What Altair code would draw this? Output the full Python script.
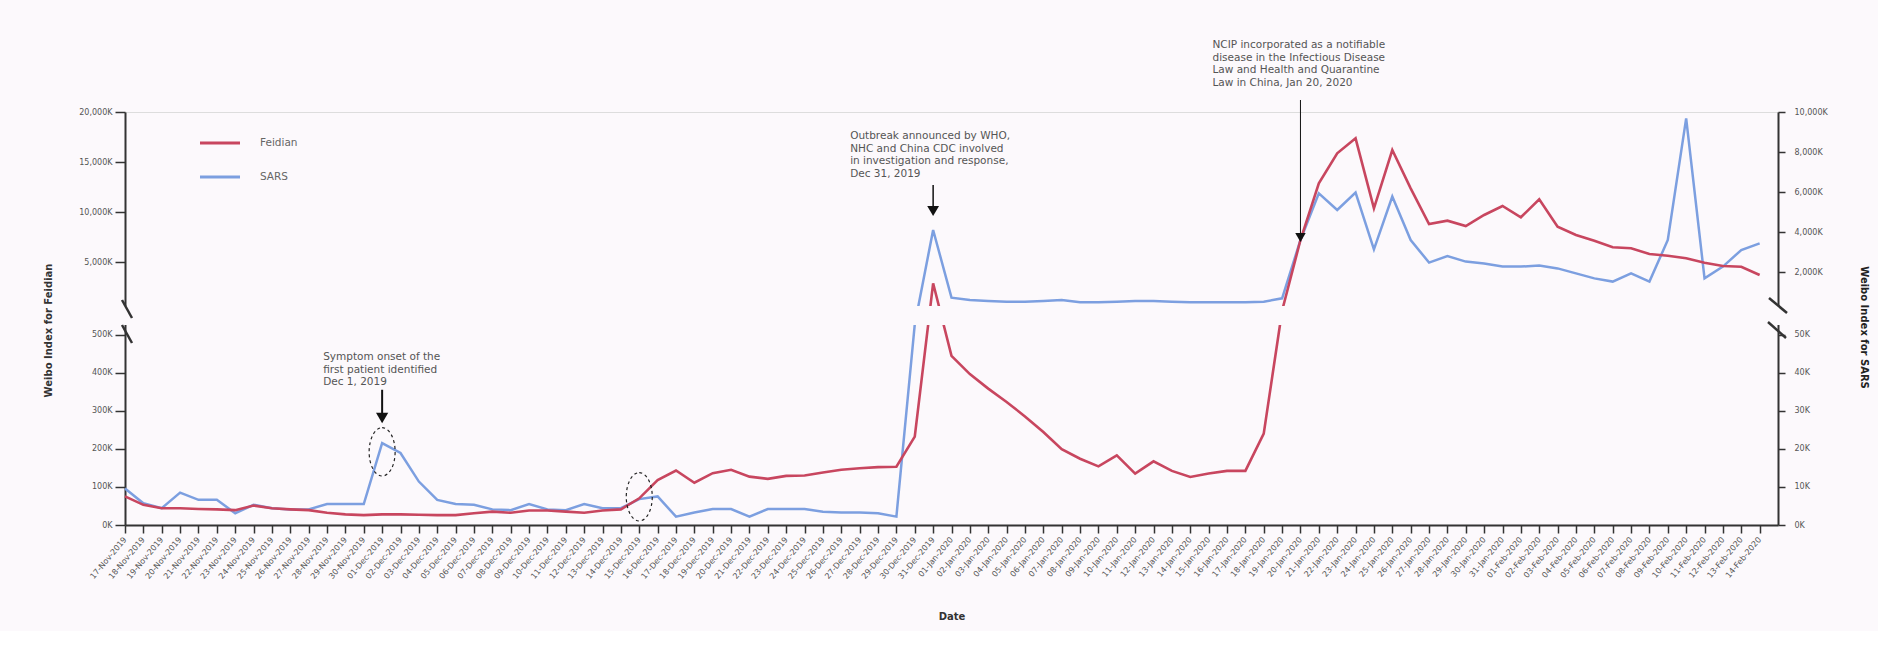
import altair as alt
import pandas as pd

# ---------------- data ----------------
dates = [d.strftime("%Y-%m-%d") for d in pd.date_range("2019-11-17", "2020-02-14", freq="D")]

# Weibo index for "Feidian" (thousands), left axis
feidian_k = [75, 53, 44, 44, 42, 41, 39, 51, 44, 41,
             39, 32, 28, 26, 28, 28, 27, 26, 26, 31,
             35, 32, 38, 38, 35, 32, 38, 41, 70, 118,
             143, 111, 136, 145, 127, 121, 129, 130, 138, 145,
             149, 152, 153, 232, 2870, 444, 396, 358, 323, 285,
             244, 199, 174, 154, 183, 135, 167, 142, 126, 135,
             142, 142, 240, 650, 7200, 12870, 15870, 17370, 10370, 16200,
             12370, 8800, 9130, 8600, 9700, 10600, 9470, 11270, 8530, 7700,
             7130, 6470, 6370, 5800, 5630, 5370, 4930, 4600, 4530, 3700]

# Weibo index for SARS (thousands), right axis
sars_k = [9.6, 5.7, 4.4, 8.5, 6.6, 6.6, 3.1, 5.3, 4.4, 4.1,
          4.1, 5.5, 5.5, 5.5, 21.5, 18.9, 11.4, 6.6, 5.5, 5.3,
          4.1, 3.9, 5.5, 4.1, 3.9, 5.5, 4.4, 4.4, 6.8, 7.5,
          2.2, 3.3, 4.2, 4.2, 2.2, 4.2, 4.2, 4.2, 3.5, 3.3,
          3.3, 3.1, 2.2, 60, 4100, 717, 600, 550, 517, 517,
          550, 600, 483, 483, 517, 550, 550, 517, 483, 483,
          483, 483, 517, 685, 3600, 5930, 5100, 5970, 3130, 5770,
          3600, 2470, 2800, 2520, 2430, 2270, 2270, 2320, 2180, 1930,
          1680, 1520, 1930, 1520, 3600, 9680, 1680, 2270, 3100, 3430]

left_ticks = [0, 100, 200, 300, 400, 500, 5000, 10000, 15000, 20000]
right_ticks = [0, 10, 20, 30, 40, 50, 2000, 4000, 6000, 8000, 10000]

ann_dates = ["2019-12-01", "2019-12-31", "2020-01-20"]
ann_texts = [
    "Symptom onset of the\nfirst patient identified\nDec 1, 2019",
    "Outbreak announced by WHO,\nNHC and China CDC involved\nin investigation and response,\nDec 31, 2019",
    "NCIP incorporated as a notifiable\ndisease in the Infectious Disease\nLaw and Health and Quarantine\nLaw in China, Jan 20, 2020",
]
ann_text_y = [454, 18100, 27200]
ann_text_dx = [-59, -83, -88]
arrow_top = [355, 12700, 21200]
arrow_bottom = [292, 10500, 7900]
arrow_head = [281, 10100, 7450]
arrow_width = [2, 1.5, 1]
arrow_size = [150, 140, 110]
ellipse_dates = ["2019-12-01", "2019-12-15"]
ellipse_y = [192, 74]

series_names = ["Feidian", "SARS"]

# ---------------- styling ----------------
RED = "#c8465f"
BLUE = "#7c9fe0"
BG = "#fcf9fc"
AX = "#333333"
FONT = "DejaVu Sans"

W = 1653
H = 413
# broken axis: lower segment occupies pixels H..213, gap 213..193, upper 193..0
PIECES = [H, 213, 193, 0]

df = pd.DataFrame({"date": dates, "feidian": feidian_k, "sars": sars_k})


def dt(s):
    y, m, d = (int(p) for p in s.split("-"))
    return alt.DateTime(year=y, month=m, date=d, utc=True)


xscale = alt.Scale(type="utc", domain=[dt("2019-11-17"), dt("2020-02-15")])
xaxis = alt.Axis(
    values=[dt(d) for d in dates], format="%d-%b-%Y", labelAngle=-50,
    labelFontSize=8, labelColor="#555", labelOverlap=False, labelFlush=False,
    labelPadding=5, tickSize=8, tickWidth=1.5, tickColor=AX, domainColor=AX,
    domainWidth=2, grid=False, title="Date", titleFontSize=10, titleFontWeight="bold",
    titleColor="#333", titleY=91, titleBaseline="middle",
)
X = alt.X("date:T", scale=xscale, axis=xaxis)

yl_scale = alt.Scale(domain=[0, 525, 700, 20000], range=PIECES, nice=False, zero=False)
yl_axis = alt.Axis(
    values=left_ticks, labelExpr="format(datum.value, ',') + 'K'", orient="left",
    labelFontSize=8, labelColor="#555", tickSize=10, tickWidth=1.5, tickColor=AX,
    domainColor=AX, domainWidth=2, labelPadding=3, grid=False,
    title="Weibo Index for Feidian", titleFontSize=10, titleFontWeight="bold",
    titleColor="#333", titleX=-77, titleY=218, titleAngle=270, titleBaseline="middle",
    titleAlign="center",
)
YL = alt.Y("feidian:Q", scale=yl_scale, axis=yl_axis)

yr_scale = alt.Scale(domain=[0, 52.5, 350, 10000], range=PIECES, nice=False, zero=False)
yr_axis = alt.Axis(
    values=right_ticks, labelExpr="format(datum.value, ',') + 'K'", orient="right",
    labelFontSize=8, labelColor="#555", tickSize=7, tickWidth=1.5, tickColor=AX,
    domainColor=AX, domainWidth=2, labelPadding=9, grid=False,
    title="Weibo Index for SARS", titleFontSize=10, titleFontWeight="bold",
    titleColor="#222", titleX=85, titleY=215, titleAngle=90, titleBaseline="middle",
    titleAlign="center",
)
YR = alt.Y("sars:Q", scale=yr_scale, axis=yr_axis)

base = alt.Chart(df)
blue_line = base.mark_line(color=BLUE, strokeWidth=2.5).encode(x=X, y=YR)
red_line = base.mark_line(color=RED, strokeWidth=2.6).encode(x=X, y=YL)

ann_layers = []
for i in range(3):
    d = ann_dates[i]
    ann_layers.append(
        alt.Chart(alt.Data(values=[{"date": d, "feidian": ann_text_y[i]}]))
        .mark_text(text=ann_texts[i], lineBreak="\n", align="left", baseline="top",
                   dx=ann_text_dx[i], fontSize=10.5, lineHeight=12.7, color="#555", font=FONT)
        .encode(x=X, y=YL)
    )
    ann_layers.append(
        alt.Chart(alt.Data(values=[{"date": d, "feidian": arrow_top[i], "f2": arrow_bottom[i]}]))
        .mark_rule(color="#111", strokeWidth=arrow_width[i])
        .encode(x=X, y=YL, y2=alt.Y2("f2:Q"))
    )
    ann_layers.append(
        alt.Chart(alt.Data(values=[{"date": d, "feidian": arrow_head[i]}]))
        .mark_point(shape="triangle-down", filled=True, color="#111", size=arrow_size[i], opacity=1)
        .encode(x=X, y=YL)
    )

ELLIPSE = ("M 0 -0.93 C 0.276 -0.93 0.5 -0.514 0.5 0 C 0.5 0.514 0.276 0.93 0 0.93 "
           "C -0.276 0.93 -0.5 0.514 -0.5 0 C -0.5 -0.514 -0.276 -0.93 0 -0.93 Z")
for i in range(2):
    ann_layers.append(
        alt.Chart(alt.Data(values=[{"date": ellipse_dates[i], "feidian": ellipse_y[i]}]))
        .mark_point(shape=ELLIPSE, filled=False, size=2704, color="#222", strokeWidth=1.2,
                    strokeDash=[3, 3], opacity=1)
        .encode(x=X, y=YL)
    )

one = alt.Data(values=[{}])
legend_layers = []
for i, (name, col) in enumerate(zip(series_names, [RED, BLUE])):
    yy = 31 + 34 * i
    legend_layers.append(
        alt.Chart(one).mark_rule(color=col, strokeWidth=3)
        .encode(x=alt.value(75), x2=alt.value(115), y=alt.value(yy))
    )
    legend_layers.append(
        alt.Chart(one).mark_text(align="left", baseline="middle", fontSize=10.5, color="#666", font=FONT)
        .encode(x=alt.value(135), y=alt.value(yy), text=alt.value(name))
    )

mask = alt.Chart(one).mark_rect(color=BG).encode(
    x=alt.value(-8), x2=alt.value(W + 8), y=alt.value(194), y2=alt.value(213)
)
slashes = []
for (x1, x2, y1, y2) in [(-3, 7, 188, 206), (-3, 7, 213, 231),
                         (W - 9, W + 9, 186, 201), (W - 10, W + 8, 210, 226)]:
    slashes.append(
        alt.Chart(one).mark_rule(color=AX, strokeWidth=2.5)
        .encode(x=alt.value(x1), x2=alt.value(x2), y=alt.value(y1), y2=alt.value(y2))
    )

group_right = alt.layer(blue_line)
group_left = alt.layer(red_line, *ann_layers)

chart = (
    alt.layer(group_right, group_left, mask, *slashes, *legend_layers)
    .resolve_scale(y="independent")
    .properties(width=W, height=H, background=BG,
                padding={"left": 43, "top": 40, "right": 10, "bottom": 10})
    .configure_view(stroke=None)
    .configure(font=FONT)
)

chart.save("out.html", embed_options={"renderer": "svg", "actions": False})
